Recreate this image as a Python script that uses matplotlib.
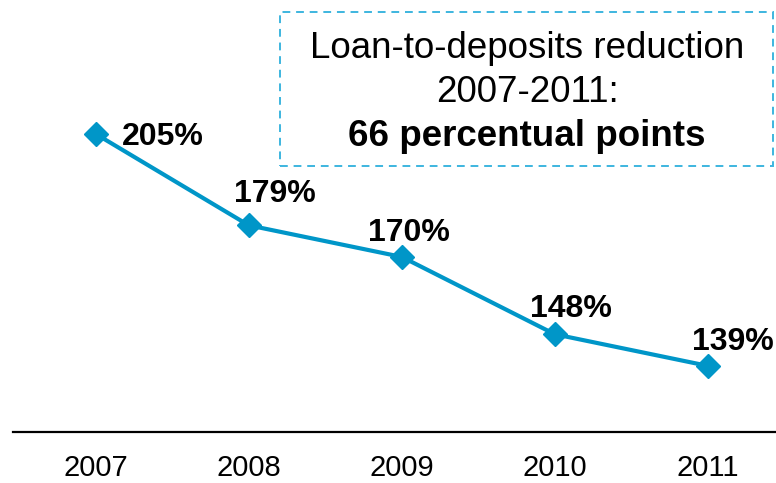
import matplotlib
matplotlib.use("Agg")
import matplotlib.pyplot as plt
from matplotlib.patches import FancyBboxPatch

years = ["2007", "2008", "2009", "2010", "2011"]
ratio = [205, 179, 170, 148, 139]
labels = ["205%", "179%", "170%", "148%", "139%"]
box_lines = ["Loan-to-deposits reduction", "2007-2011:", "66 percentual points"]

# label offsets in pixels (dx, dy) relative to each marker
label_offsets_px = [(67, -3), (26, 31), (7, 24), (16, 25), (25, 24)]

plt.rcParams["font.family"] = ["Liberation Sans", "DejaVu Sans"]

DPI = 100
fig = plt.figure(figsize=(7.76, 4.83), dpi=DPI)
ax = fig.add_axes([13 / 776, 51 / 483, 1 - 13 / 776, 432 / 483])

line_color = "#0096C8"
x = list(range(len(years)))
ax.plot(x, ratio, color=line_color, lw=3.0, marker="D", ms=12.5,
        markerfacecolor=line_color, markeredgecolor=line_color, zorder=3)

px2pt = 72 / DPI
for xi, yi, lab, (dx, dy) in zip(x, ratio, labels, label_offsets_px):
    ax.annotate(lab, (xi, yi), xytext=(dx * px2pt, dy * px2pt),
                textcoords="offset points", ha="center", va="center",
                fontsize=23, fontweight="bold", color="black", zorder=4)

ax.set_xlim(-0.54, 4.444)
ax.set_ylim(120.2, 243.1)

for s in ["left", "right", "top"]:
    ax.spines[s].set_visible(False)
ax.spines["bottom"].set_linewidth(1.6)
ax.spines["bottom"].set_color("black")
ax.set_yticks([])
ax.set_xticks(x)
ax.set_xticklabels(years, fontsize=21)
ax.tick_params(axis="x", length=0, pad=16)

# dashed annotation box
W, H = 776, 483
bx0, by0, bx1, by1 = 280, 12, 773, 166
box = FancyBboxPatch((bx0 / W, 1 - by1 / H), (bx1 - bx0) / W, (by1 - by0) / H,
                     boxstyle="square,pad=0", transform=fig.transFigure,
                     facecolor="none", edgecolor="#3DB5DF", lw=1.4,
                     linestyle=(0, (4, 3)))
fig.add_artist(box)

cx = 527 / W
fig.text(cx, 1 - 48 / H, box_lines[0], ha="center", va="center", fontsize=26.5)
fig.text(cx, 1 - 92 / H, box_lines[1], ha="center", va="center", fontsize=26.5)
fig.text(cx, 1 - 137 / H, box_lines[2], ha="center", va="center", fontsize=26.5,
         fontweight="bold")

fig.savefig("out.png", dpi=DPI)
